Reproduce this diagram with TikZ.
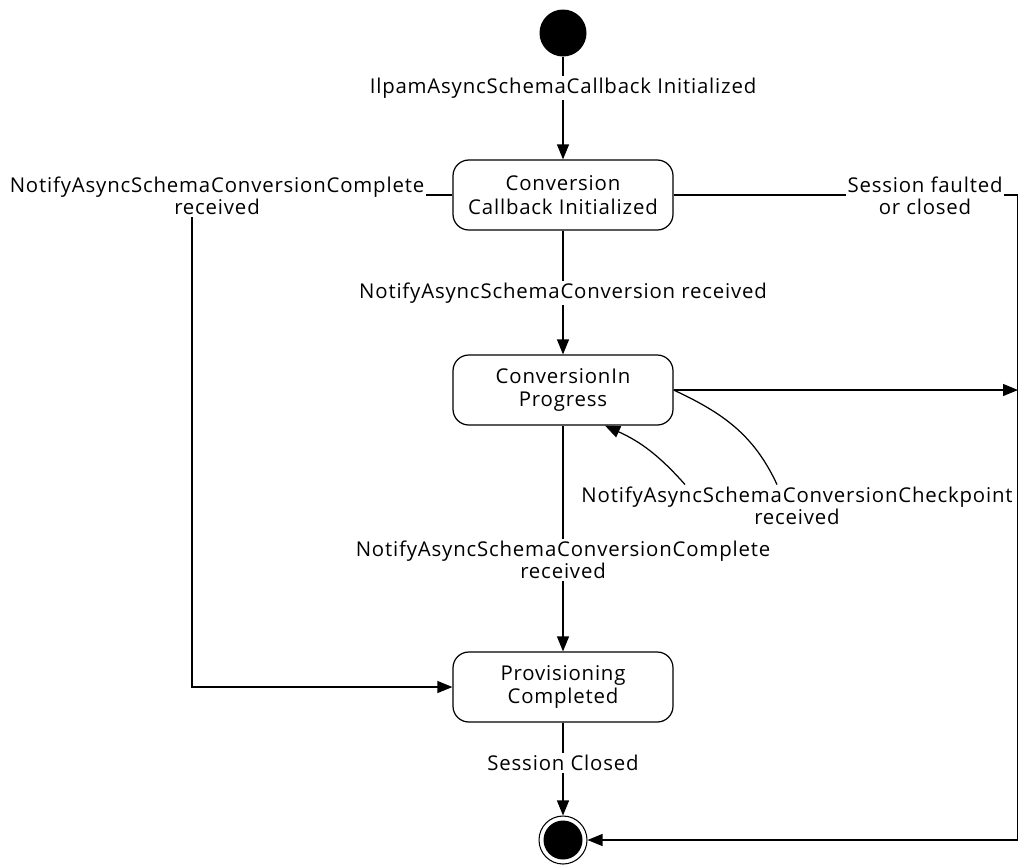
\documentclass[tikz,border=0pt]{standalone}
\usepackage{fontspec}
\setmainfont[LetterSpace=4]{Open Sans}
\usetikzlibrary{arrows.meta}

\begin{document}
\begin{tikzpicture}[
  state/.style={draw, rectangle, rounded corners=9pt, align=center, font=\fontsize{11.6}{13.5}\selectfont, minimum width=4.4cm, minimum height=1.4cm, line width=0.7pt, inner sep=2pt},
  startdot/.style={circle, fill=black, minimum size=0.94cm, inner sep=0pt},
  enddot/.style={circle, draw, fill=white, line width=0.6pt, minimum size=0.96cm, inner sep=0pt,
    path picture={\fill[black] (path picture bounding box.center) circle (0.39cm);}},
  lbl/.style={fill=white, align=center, font=\fontsize{11.6}{12.5}\selectfont, inner sep=1pt},
  arrow/.style={-{Triangle[length=0.3cm, width=0.24cm]}, line width=0.7pt},
  wire/.style={line width=0.7pt}
]
\useasboundingbox (0,0) rectangle (20.36,-17.28);

% ==================== states ====================
\node[startdot] (init) at (11.26, -0.66) {};
\node[state] (s1) at (11.26, -3.9) {Conversion\\Callback Initialized};
\node[state] (s2) at (11.26, -7.8) {ConversionIn\\Progress};
\node[state] (s3) at (11.26, -13.74) {Provisioning\\Completed};
\node[enddot] (final) at (11.26, -16.8) {};

\coordinate (bend) at (3.84, -3.9);
\coordinate (rtop) at (20.35, -3.9);
\coordinate (rmid) at (20.36, -7.8);
\coordinate (rbot) at (20.35, -16.8);

% ==================== transitions ====================
\draw[arrow] (init) -- (s1);
\draw[arrow] (s1) -- (s2);
\draw[arrow] (s2) -- (s3);
\draw[arrow] (s3) -- (final);

\draw[arrow] (s1.west) -- (bend) |- (s3.west);
\draw[wire] (s1.east) -- (rtop) -- (rbot);
\draw[arrow] (rbot) -- (final);
\draw[arrow] (s2.east) -- (rmid);

% ==================== labels ====================
\node[lbl] (l_init) at (11.26, -1.76) {IlpamAsyncSchemaCallback Initialized};
\node[lbl] (l_conv) at (11.26, -5.86) {NotifyAsyncSchemaConversion received};
\node[lbl] (l_comp) at (11.26, -11.2) {NotifyAsyncSchemaConversionComplete\\received};
\node[lbl] (l_closed) at (11.26, -15.26) {Session Closed};
\node[lbl] (l_left) at (4.34, -3.92) {NotifyAsyncSchemaConversionComplete\\received};
\node[lbl] (l_right) at (18.5, -3.92) {Session faulted\\or closed};
\node[lbl] (l_check) at (15.94, -10.11) {NotifyAsyncSchemaConversionCheckpoint\\received};

% self transition
\draw[wire] (s2.east) to[out=-25, in=115] ([xshift=-0.4cm]l_check.north);
\draw[arrow] ([xshift=-2.24cm]l_check.north) to[bend right=12] ([xshift=0.84cm]s2.south);

\end{tikzpicture}
\end{document}
